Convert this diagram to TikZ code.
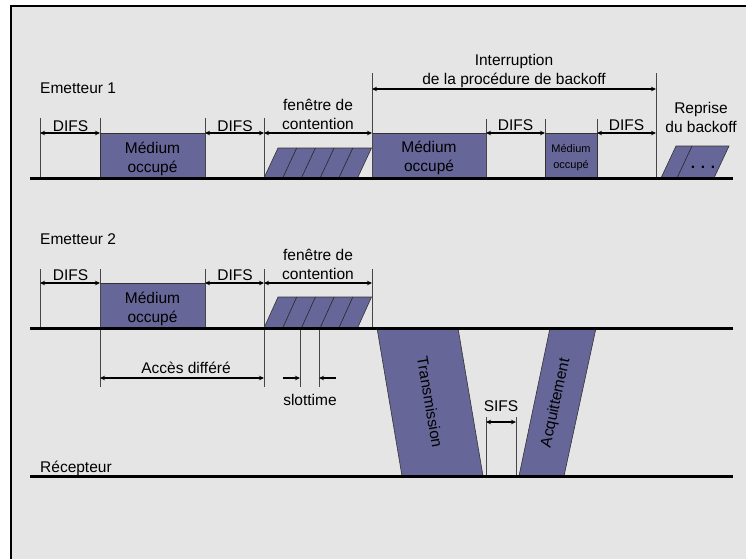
\documentclass[tikz,border=0pt]{standalone}
\usepackage{fontspec}
\setmainfont{Liberation Sans}
\usetikzlibrary{arrows.meta}
\definecolor{panel}{RGB}{229,229,229}
\definecolor{busy}{RGB}{102,102,153}
\definecolor{tickgray}{RGB}{70,70,70}

\begin{document}
\begin{tikzpicture}[x=1pt,y=-1pt,
  lbl/.style={font=\fontsize{15.5}{19}\selectfont, inner sep=0pt, align=center},
  smalllbl/.style={font=\fontsize{11}{15.5}\selectfont, inner sep=0pt, align=center},
  timeline/.style={line width=3pt, black},
  tickline/.style={line width=0.8pt, tickgray},
  dim/.style={line width=1.5pt, black, {Stealth[length=5pt,width=4.5pt]}-{Stealth[length=5pt,width=4.5pt]}},
  dimin/.style={line width=1.5pt, black, -{Stealth[length=5pt,width=4.5pt]}},
  busybox/.style={fill=busy, draw=black!80, line width=0.6pt},
  hatch/.style={draw=black!85, line width=0.6pt},
]
\useasboundingbox (0,0) rectangle (746,558);
\clip (0,0) rectangle (746,558);
\fill[white] (0,0) rectangle (746,558);
\draw[line width=2.2pt, fill=panel] (11,6) rectangle (790,610);

% ---------- Emetteur 1 ----------
% busy periods
\path[busybox] (100,133) rectangle (205,178);
\path[busybox] (372,133) rectangle (486,178);
\path[busybox] (545,133) rectangle (597,178);
% contention window (5 slots)
\path[busybox] (264,178) -- (278,148) -- (371.5,148) -- (357.5,178) -- cycle;
\foreach \k in {1,...,4}
  \draw[hatch] ({264+18.7*\k},178) -- ({278+18.7*\k},148);
% resumed backoff
\path[busybox] (661,178) -- (676,146) -- (729,146) -- (714,178) -- cycle;
\draw[hatch] (677,178) -- (692,146);
\node[lbl, anchor=base, font=\fontsize{15.5}{19}\selectfont\bfseries] (dots) at (703,168) {. . .};

% ticks
\draw[tickline] (40,118) -- (40,178);
\draw[tickline] (100,118) -- (100,133);
\draw[tickline] (205,118) -- (205,178);
\draw[tickline] (264,118) -- (264,178);
\draw[tickline] (372,73) -- (372,178);
\draw[tickline] (486,119) -- (486,178);
\draw[tickline] (545,119) -- (545,133);
\draw[tickline] (597,119) -- (597,133);
\draw[tickline] (656,73) -- (656,178);

% named marks
\coordinate (a0) at (40,133);
\coordinate (a1) at (100,133);
\coordinate (a2) at (205,133);
\coordinate (a3) at (264,133);
\coordinate (a4) at (372,133);
\coordinate (a5) at (486,133);
\coordinate (a6) at (545,133);
\coordinate (a7) at (597,133);
\coordinate (a8) at (656,133);
\coordinate (i0) at (372,89);
\coordinate (i1) at (656,89);

\draw[dim] (a0) -- (a1);
\draw[dim] (a2) -- (a3);
\draw[dim] (a3) -- (a4);
\draw[dim] (a5) -- (a6);
\draw[dim] (a7) -- (a8);
\draw[dim] (i0) -- (i1);

\node[lbl, anchor=base west] (e1) at (40,93.3) {Emetteur 1};
\node[lbl, anchor=base] (d1) at (70.5,131) {DIFS};
\node[lbl, anchor=base] (d2) at (235,131) {DIFS};
\node[lbl, anchor=base] (d3) at (515.5,130) {DIFS};
\node[lbl, anchor=base] (d4) at (626.5,130) {DIFS};
\node[lbl] (cw1) at (318,114.3) {fenêtre de\\contention};
\node[lbl] (m1) at (152.5,158.9) {Médium\\occupé};
\node[lbl] (m2) at (429,157.9) {Médium\\occupé};
\node[smalllbl] (m3) at (571,157.6) {Médium\\occupé};
\node[lbl] (intr) at (514,71.4) {Interruption\\de la procédure de backoff};
\node[lbl] (rep) at (701,117.8) {Reprise\\du backoff};

\draw[timeline] (30,178) -- (733,178);

% ---------- Emetteur 2 ----------
\path[busybox] (100,283) rectangle (205,328);
\path[busybox] (264,328) -- (278,297) -- (371.5,297) -- (357.5,328) -- cycle;
\foreach \k in {1,...,4}
  \draw[hatch] ({264+18.7*\k},328) -- ({278+18.7*\k},297);

\draw[tickline] (40,269) -- (40,328);
\draw[tickline] (100,269) -- (100,387);
\draw[tickline] (205,269) -- (205,328);
\draw[tickline] (264,269) -- (264,387);
\draw[tickline] (372,269) -- (372,328);
\draw[tickline] (300,328) -- (300,387);
\draw[tickline] (319,328) -- (319,387);

\coordinate (b0) at (40,283);
\coordinate (b1) at (100,283);
\coordinate (b2) at (205,283);
\coordinate (b3) at (264,283);
\coordinate (b4) at (372,283);
\coordinate (f0) at (100,378);
\coordinate (f1) at (264,378);
\coordinate (s0) at (283,378);
\coordinate (s1) at (300,378);
\coordinate (s2) at (319,378);
\coordinate (s3) at (336,378);

\draw[dim] (b0) -- (b1);
\draw[dim] (b2) -- (b3);
\draw[dim] (b3) -- (b4);
\draw[dim] (f0) -- (f1);
\draw[dimin] (s0) -- (s1);
\draw[dimin] (s3) -- (s2);

\node[lbl, anchor=base west] (e2) at (40,244) {Emetteur 2};
\node[lbl, anchor=base] (d5) at (70.5,280.7) {DIFS};
\node[lbl, anchor=base] (d6) at (235,280.7) {DIFS};
\node[lbl] (cw2) at (318,264.3) {fenêtre de\\contention};
\node[lbl] (m4) at (152.5,308.8) {Médium\\occupé};
\node[lbl, anchor=base] (acc) at (186,373.3) {Accès différé};
\node[lbl, anchor=base] (slot) at (310,405) {slottime};

% ---------- Transmission / acknowledgement ----------
\path[busybox] (377,328) -- (458,328) -- (483,476) -- (402,476) -- cycle;
\path[busybox] (550,328) -- (596,328) -- (564,476) -- (519,476) -- cycle;
\node[lbl, rotate=-80.3] (tx) at (430,402) {Transmission};
\node[lbl, rotate=77.8] (ack) at (556,403) {Acquittement};

\draw[tickline] (486,417) -- (486,476);
\draw[tickline] (516,417) -- (516,476);
\coordinate (c0) at (486,422);
\coordinate (c1) at (516,422);
\draw[dim] (c0) -- (c1);
\node[lbl, anchor=base] (sifs) at (501,411.7) {SIFS};

\draw[timeline] (30,328) -- (733,328);

% ---------- Récepteur ----------
\node[lbl, anchor=base west] (rx) at (40,472) {Récepteur};
\draw[timeline] (30,476) -- (733,476);
\end{tikzpicture}
\end{document}
